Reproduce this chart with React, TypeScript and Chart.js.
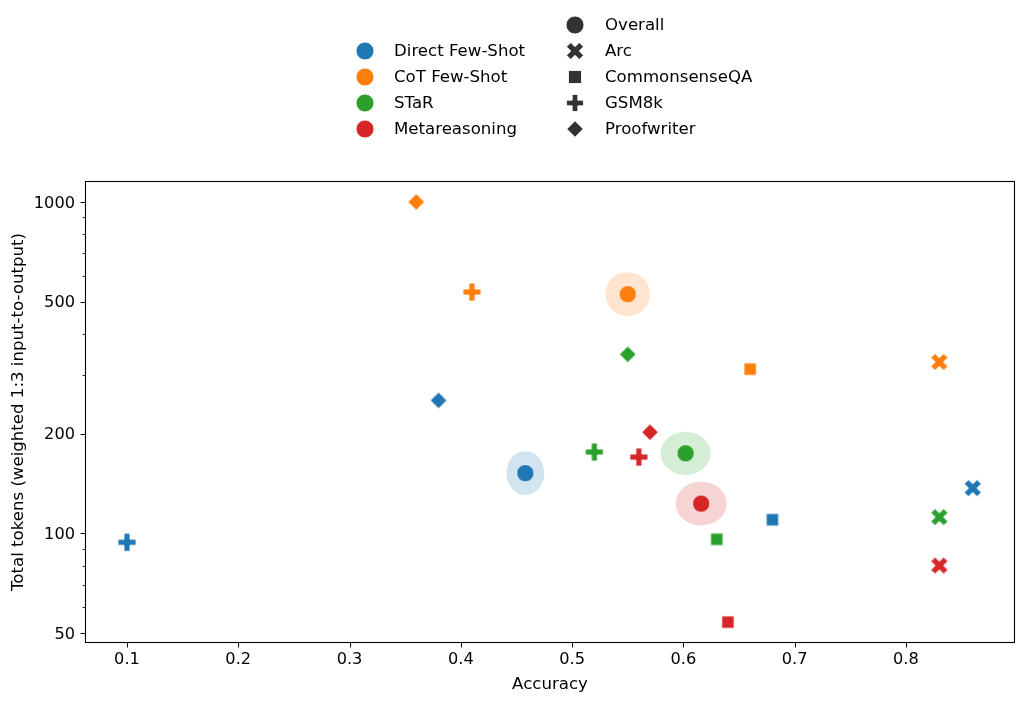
import React, { useEffect, useRef } from 'react';
import Chart from 'chart.js/auto';

// ---------- data ----------
const methods = ['Direct Few-Shot', 'CoT Few-Shot', 'STaR', 'Metareasoning'];
const methodColors = ['#1f77b4', '#ff7f0e', '#2ca02c', '#d62728'];
const tasks = ['Overall', 'Arc', 'CommonsenseQA', 'GSM8k', 'Proofwriter'];
const taskMarkers = ['circle', 'x', 'square', 'plus', 'diamond'];

const directAccuracy = [0.458, 0.86, 0.68, 0.1, 0.38];
const directTokens = [152, 137, 110, 94, 252];
const cotAccuracy = [0.55, 0.83, 0.66, 0.41, 0.36];
const cotTokens = [527, 329, 313, 535, 1000];
const starAccuracy = [0.602, 0.83, 0.63, 0.52, 0.55];
const starTokens = [174.5, 112, 96, 176, 347];
const metaAccuracy = [0.616, 0.83, 0.64, 0.56, 0.57];
const metaTokens = [123, 80, 54, 170, 202];

// spread of the "Overall" estimate (ellipse half-widths, in data units)
const overallAccuracySpread = [0.017, 0.02, 0.0225, 0.023];
const overallTokenSpread = [23, 80, 26, 18.6];

const xTickValues = [0.1, 0.2, 0.3, 0.4, 0.5, 0.6, 0.7, 0.8];
const xTickLabels = ['0.1', '0.2', '0.3', '0.4', '0.5', '0.6', '0.7', '0.8'];
const yTickValues = [50, 100, 200, 500, 1000];
const yTickLabels = ['50', '100', '200', '500', '1000'];
const yMinorTickValues = [60, 70, 80, 90, 300, 400, 600, 700, 800, 900];

const xLabel = 'Accuracy';
const yLabel = 'Total tokens (weighted 1:3 input-to-output)';

const accuracyByMethod = [directAccuracy, cotAccuracy, starAccuracy, metaAccuracy];
const tokensByMethod = [directTokens, cotTokens, starTokens, metaTokens];

// ---------- drawing helpers ----------
const FONT = '"DejaVu Sans", "Liberation Sans", sans-serif';
const LEGEND_GRAY = '#333333';
const TEXT_SIZE = 16.6;
const TICK_SIZE = 16.2;

function hexToRgba(hex: string, a: number) {
  const n = parseInt(hex.slice(1), 16);
  return `rgba(${(n >> 16) & 255},${(n >> 8) & 255},${n & 255},${a})`;
}

function shapePath(ctx: CanvasRenderingContext2D, marker: string, cx: number, cy: number, s: number) {
  ctx.beginPath();
  if (marker === 'circle') {
    ctx.arc(cx, cy, s / 2, 0, Math.PI * 2);
    return;
  }
  let pts: number[][] = [];
  if (marker === 'square') {
    pts = [[-0.5, -0.5], [0.5, -0.5], [0.5, 0.5], [-0.5, 0.5]];
  } else if (marker === 'diamond') {
    pts = [[0, -0.5], [0.5, 0], [0, 0.5], [-0.5, 0]];
  } else if (marker === 'plus') {
    const t = 1 / 6, h = 0.5;
    pts = [[-t, -h], [t, -h], [t, -t], [h, -t], [h, t], [t, t], [t, h], [-t, h], [-t, t], [-h, t], [-h, -t], [-t, -t]];
  } else if (marker === 'x') {
    pts = [[0.25, 0], [0.5, 0.25], [0.25, 0.5], [0, 0.25], [-0.25, 0.5], [-0.5, 0.25], [-0.25, 0], [-0.5, -0.25], [-0.25, -0.5], [0, -0.25], [0.25, -0.5], [0.5, -0.25]];
  }
  pts.forEach((p, i) => {
    const px = cx + p[0] * s, py = cy + p[1] * s;
    if (i === 0) ctx.moveTo(px, py); else ctx.lineTo(px, py);
  });
  ctx.closePath();
}

const plotMarkerSize: Record<string, number> = { circle: 17.5, x: 17, square: 12.3, plus: 18, diamond: 16.6 };
const legendMarkerSize: Record<string, number> = { circle: 18, x: 17, square: 13, plus: 17, diamond: 16.5 };

function drawMarker(ctx: CanvasRenderingContext2D, marker: string, cx: number, cy: number, s: number, color: string, edge: boolean) {
  shapePath(ctx, marker, cx, cy, s);
  ctx.fillStyle = color;
  ctx.fill();
  if (edge) {
    ctx.lineWidth = 1;
    ctx.strokeStyle = 'rgba(255,255,255,0.85)';
    ctx.stroke();
  }
}

function makeMarkerCanvas(marker: string, color: string) {
  const c = document.createElement('canvas');
  c.width = 26;
  c.height = 26;
  const ctx = c.getContext('2d')!;
  drawMarker(ctx, marker, 13, 13, plotMarkerSize[marker], color, true);
  return c;
}

const decorPlugin = {
  id: 'decor',
  beforeDatasetsDraw(chart: any) {
    const { ctx, chartArea } = chart;
    const xs = chart.scales.x, ys = chart.scales.y;
    ctx.save();
    ctx.beginPath();
    ctx.rect(chartArea.left, chartArea.top, chartArea.right - chartArea.left, chartArea.bottom - chartArea.top);
    ctx.clip();
    methods.forEach((_, i) => {
      const acc = accuracyByMethod[i][0];
      const tok = tokensByMethod[i][0];
      const cx = xs.getPixelForValue(acc);
      const cy = ys.getPixelForValue(tok);
      const rx = xs.getPixelForValue(acc + overallAccuracySpread[i]) - cx;
      const top = ys.getPixelForValue(tok + overallTokenSpread[i]);
      const bot = ys.getPixelForValue(tok - overallTokenSpread[i]);
      const ry = (bot - top) / 2;
      ctx.beginPath();
      ctx.ellipse(cx, cy, rx, ry, 0, 0, Math.PI * 2);
      ctx.fillStyle = hexToRgba(methodColors[i], 0.2);
      ctx.fill();
    });
    ctx.restore();
  },
  afterDraw(chart: any) {
    const { ctx, chartArea } = chart;
    const xs = chart.scales.x, ys = chart.scales.y;
    const L = Math.round(chartArea.left) + 0.5;
    const R = Math.round(chartArea.right) - 0.5;
    const T = Math.round(chartArea.top) + 0.5;
    const B = Math.round(chartArea.bottom) - 0.5;
    ctx.save();
    // ticks
    ctx.strokeStyle = '#000';
    ctx.lineWidth = 1;
    ctx.beginPath();
    yTickValues.forEach((v) => {
      const p = Math.round(ys.getPixelForValue(v)) + 0.5;
      ctx.moveTo(L - 5, p);
      ctx.lineTo(L, p);
    });
    xTickValues.forEach((v) => {
      const p = Math.round(xs.getPixelForValue(v)) + 0.5;
      ctx.moveTo(p, B);
      ctx.lineTo(p, B + 5);
    });
    ctx.stroke();
    ctx.lineWidth = 0.8;
    ctx.beginPath();
    yMinorTickValues.forEach((v) => {
      const p = Math.round(ys.getPixelForValue(v)) + 0.5;
      ctx.moveTo(L - 3, p);
      ctx.lineTo(L, p);
    });
    ctx.stroke();
    // frame
    ctx.lineWidth = 1.1;
    ctx.strokeRect(L, T, R - L, B - T);

    // y tick labels (drawn here for precise vertical placement)
    ctx.font = `${TICK_SIZE}px ${FONT}`;
    ctx.fillStyle = '#000';
    ctx.textAlign = 'right';
    ctx.textBaseline = 'middle';
    yTickValues.forEach((v, i) => {
      const p = ys.getPixelForValue(v);
      ctx.fillText(yTickLabels[i], L - 10.5, p + 1.5);
    });

    // legend
    ctx.font = `${TEXT_SIZE}px ${FONT}`;
    ctx.textBaseline = 'middle';
    ctx.textAlign = 'left';
    const rowH = 26;
    const leftX = 365, leftTextX = 394, leftY0 = 51;
    methods.forEach((m, i) => {
      const y = leftY0 + i * rowH;
      drawMarker(ctx, 'circle', leftX, y, legendMarkerSize.circle, methodColors[i], true);
      ctx.fillStyle = '#000';
      ctx.fillText(m, leftTextX, y + 1);
    });
    const rightX = 575, rightTextX = 605, rightY0 = 25;
    tasks.forEach((t, i) => {
      const y = rightY0 + i * rowH;
      drawMarker(ctx, taskMarkers[i], rightX, y, legendMarkerSize[taskMarkers[i]], LEGEND_GRAY, true);
      ctx.fillStyle = '#000';
      ctx.fillText(t, rightTextX, y + 1);
    });
    ctx.restore();
  },
};

export default function App() {
  const ref = useRef<HTMLCanvasElement | null>(null);
  useEffect(() => {
    if (!ref.current) return;
    const styleCache: Record<string, HTMLCanvasElement> = {};
    const getStyle = (marker: string, color: string) => {
      const k = marker + color;
      if (!styleCache[k]) styleCache[k] = makeMarkerCanvas(marker, color);
      return styleCache[k];
    };
    const datasets = methods.map((m, i) => ({
      label: m,
      data: accuracyByMethod[i].map((a, j) => ({ x: a, y: tokensByMethod[i][j] })),
      backgroundColor: methodColors[i],
      borderColor: methodColors[i],
      pointRadius: 8,
      pointStyle: (c: any) => getStyle(taskMarkers[c.dataIndex] || 'circle', methodColors[i]),
    }));
    const chart = new Chart(ref.current, {
      type: 'scatter',
      data: { datasets },
      plugins: [decorPlugin],
      options: {
        animation: false,
        responsive: true,
        maintainAspectRatio: false,
        devicePixelRatio: 1,
        layout: { padding: { top: 181, right: 10, left: 0, bottom: 0 } },
        plugins: { legend: { display: false }, tooltip: { enabled: false } },
        events: [],
        scales: {
          x: {
            type: 'linear',
            min: 0.0623,
            max: 0.898,
            afterBuildTicks: (s: any) => {
              s.ticks = xTickValues.map((v) => ({ value: v }));
            },
            afterFit: (s: any) => {
              s.height = 61;
            },
            grid: { display: false, drawTicks: true, tickLength: 5 },
            border: { display: false },
            ticks: {
              padding: 2,
              color: '#000',
              font: { family: FONT, size: TICK_SIZE },
              maxRotation: 0,
              autoSkip: false,
              callback: (v: any) => {
                const idx = xTickValues.findIndex((t) => Math.abs(t - Number(v)) < 1e-9);
                return idx >= 0 ? xTickLabels[idx] : '';
              },
            },
            title: {
              display: true,
              text: xLabel,
              color: '#000',
              font: { family: FONT, size: TEXT_SIZE },
              padding: { top: 0, bottom: 9 },
            },
          },
          y: {
            type: 'logarithmic',
            min: 46.7,
            max: 1157,
            afterBuildTicks: (s: any) => {
              s.ticks = yTickValues.map((v) => ({ value: v }));
            },
            afterFit: (s: any) => {
              s.width = 85;
            },
            grid: { display: false, drawTicks: true, tickLength: 5 },
            border: { display: false },
            ticks: {
              padding: 5,
              color: 'rgba(0,0,0,0)',
              font: { family: FONT, size: TICK_SIZE },
              autoSkip: false,
              callback: (v: any) => {
                const idx = yTickValues.findIndex((t) => Math.abs(t - Number(v)) < 1e-6);
                return idx >= 0 ? yTickLabels[idx] : '';
              },
            },
            title: {
              display: true,
              text: yLabel,
              color: '#000',
              font: { family: FONT, size: TEXT_SIZE },
              padding: { top: 9, bottom: 0 },
            },
          },
        },
      } as any,
    });
    return () => chart.destroy();
  }, []);
  return (
    <div style={{ position: 'fixed', left: 0, top: 0, width: 1025, height: 704, background: '#fff' }}>
      <canvas ref={ref} />
    </div>
  );
}
